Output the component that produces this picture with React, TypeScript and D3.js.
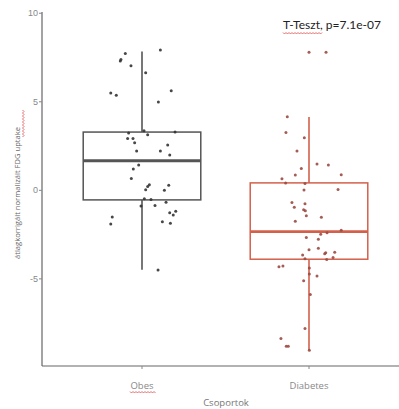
import React from "react";
import * as d3 from "d3";

// groups and their colours
const groups = ["Obes", "Diabetes"];
const boxColors = ["#555555", "#d4604b"];
const dotColors = ["#333333", "#9a4a43"];

// box stats: [lowerWhisker, q1, median, q3, upperWhisker]
const obesBox = [-4.49, -0.54, 1.67, 3.29, 7.84];
const diabetesBox = [-9.03, -3.89, -2.33, 0.42, 4.14];

// jittered points: [offset in category units, value]
const obesPoints: [number, number][] = [
	[-0.1, 7.73], [-0.126, 7.39], [-0.13, 7.31], [-0.066, 7.03], [0.11, 7.92],
	[0.022, 6.64], [-0.187, 5.5], [-0.154, 5.37], [0.175, 5.63], [0.098, 4.99],
	[-0.08, 3.24], [0.034, 3.14], [0.198, 3.29], [0.012, 3.37], [-0.086, 2.92],
	[-0.054, 2.92], [-0.044, 2.69], [0.154, 2.56], [-0.032, 2.22], [0.11, 2.22],
	[0.166, 1.99], [-0.02, 1.43], [-0.052, 1.2], [-0.064, 0.67], [0.044, 0.31],
	[0.034, 0.22], [0.022, 0.03], [0.16, 0.29], [0.134, 0.01], [0.014, -0.47],
	[0.054, -0.52], [0.144, -0.67], [-0.006, -0.88], [0.078, -0.86], [0.166, -1.26],
	[0.202, -1.18], [0.187, -1.4], [-0.178, -1.5], [-0.187, -1.9], [0.122, -1.77],
	[0.17, -1.86], [0.096, -4.5],
];
const diabetesPoints: [number, number][] = [
	[0, 7.8], [0.102, 7.8],
	[-0.13, 4.16], [-0.138, 3.26], [-0.028, 2.97], [-0.072, 2.22], [0.048, 1.48],
	[0.116, 1.43], [-0.046, 1.23], [0.193, 0.88], [-0.162, 0.65], [-0.082, 0.86],
	[-0.14, 0.42], [-0.024, 0.39], [0.174, 0.04], [-0.03, 0.02], [-0.102, -0.69],
	[-0.024, -0.76], [-0.088, -0.95], [-0.032, -1.1], [-0.022, -1.16], [-0.016, -1.43],
	[0.074, -1.52], [-0.082, -1.74], [0.193, -2.25], [0.07, -2.48], [0.108, -2.39],
	[-0.016, -2.67], [0.056, -2.76], [0, -3.35], [0.056, -3.27], [0.1, -3.52],
	[0.094, -3.58], [0.154, -3.5], [-0.038, -3.65], [0.144, -3.8], [0.106, -3.9],
	[-0.024, -3.86], [-0.18, -4.31], [-0.156, -4.28], [0.002, -4.39], [0.002, -4.73],
	[0.048, -4.84], [-0.032, -5.11], [0.008, -5.88], [-0.024, -7.8], [-0.168, -8.37],
	[-0.136, -8.8], [-0.124, -8.8], [0.002, -9.03],
];

const yTicks = [-5, 0, 5, 10];
const title = "T-Teszt, p=7.1e-07";
const xTitle = "Csoportok";
const yTitle = "átlagkorrigált normalizált FDG uptake";

const W = 399;
const H = 409;

// red spell-check squiggle
function squiggle(x0: number, x1: number, y: number) {
	const pts: [number, number][] = [];
	for (let x = x0, i = 0; x <= x1; x += 1.5, i++) pts.push([x, y + (i % 2 ? 1 : -0.5)]);
	return d3.line()(pts) ?? "";
}

export default function App() {
	const margin = { top: 12, left: 42, bottom: 366 };
	const x = d3.scalePoint<string>().domain(groups).range([142, 309]);
	const step = 167;
	const y = d3.scaleLinear().domain([-9.92, 10.07]).range([margin.bottom, margin.top]);
	const half = 0.352 * step;

	const boxes = [obesBox, diabetesBox];
	const points = [obesPoints, diabetesPoints];

	return (
		<svg width={W} height={H} style={{ position: "absolute", left: 0, top: 0, background: "#fff" }}>
			{/* axes */}
			<line x1={margin.left} x2={margin.left} y1={margin.top} y2={margin.bottom} stroke="#666" strokeWidth={1.2} />
			<line x1={margin.left} x2={W} y1={margin.bottom} y2={margin.bottom} stroke="#666" strokeWidth={1.2} />
			{yTicks.map((t) => (
				<g key={t}>
					<line x1={margin.left - 3} x2={margin.left} y1={y(t)} y2={y(t)} stroke="#888" />
					<text x={margin.left - 4} y={y(t)} dy="0.35em" textAnchor="end" fontSize={9} fill="#888" fontFamily="Liberation Sans, sans-serif">
						{t}
					</text>
				</g>
			))}
			{groups.map((g, i) => (
				<g key={g}>
					<line x1={x(g)} x2={x(g)} y1={margin.bottom} y2={margin.bottom + 3} stroke="#888" />
					<text x={x(g)} y={margin.bottom + 23} textAnchor="middle" fontSize={9.5} fill="#888" fontFamily="Open Sans, sans-serif">
						{g}
					</text>
				</g>
			))}
			<path d={squiggle(130, 156, 392)} fill="none" stroke="#e0484a" strokeWidth={0.8} />
			<text x={226} y={406} textAnchor="middle" fontSize={9.5} fill="#777" fontFamily="Open Sans, sans-serif">
				{xTitle}
			</text>
			<g transform="translate(20,193) rotate(-90)">
				<text textAnchor="middle" fontSize={7.6} fill="#666" fontFamily="Open Sans, sans-serif">
					{yTitle}
				</text>
				<path d={squiggle(56, 83, 3)} fill="none" stroke="#e0484a" strokeWidth={0.8} />
			</g>

			{/* boxplots */}
			{groups.map((g, i) => {
				const [lo, q1, med, q3, hi] = boxes[i];
				const cx = x(g)!;
				return (
					<g key={g} stroke={boxColors[i]} fill="none">
						<line x1={cx} x2={cx} y1={y(hi)} y2={y(q3)} strokeWidth={1.6} />
						<line x1={cx} x2={cx} y1={y(q1)} y2={y(lo)} strokeWidth={1.6} />
						<rect x={cx - half} y={y(q3)} width={2 * half} height={y(q1) - y(q3)} strokeWidth={1.5} />
						<line x1={cx - half} x2={cx + half} y1={y(med)} y2={y(med)} strokeWidth={2.8} />
					</g>
				);
			})}

			{/* jittered points */}
			{groups.map((g, i) =>
				points[i].map(([j, v], k) => (
					<circle key={g + k} cx={x(g)! + j * step} cy={y(v)} r={1.5} fill={dotColors[i]} opacity={0.9} />
				))
			)}

			<text x={283} y={29} fontSize={12} fill="#222" fontFamily="Lato, sans-serif">
				{title}
			</text>
			<path d={squiggle(283, 323, 33)} fill="none" stroke="#e0484a" strokeWidth={0.8} />
		</svg>
	);
}
